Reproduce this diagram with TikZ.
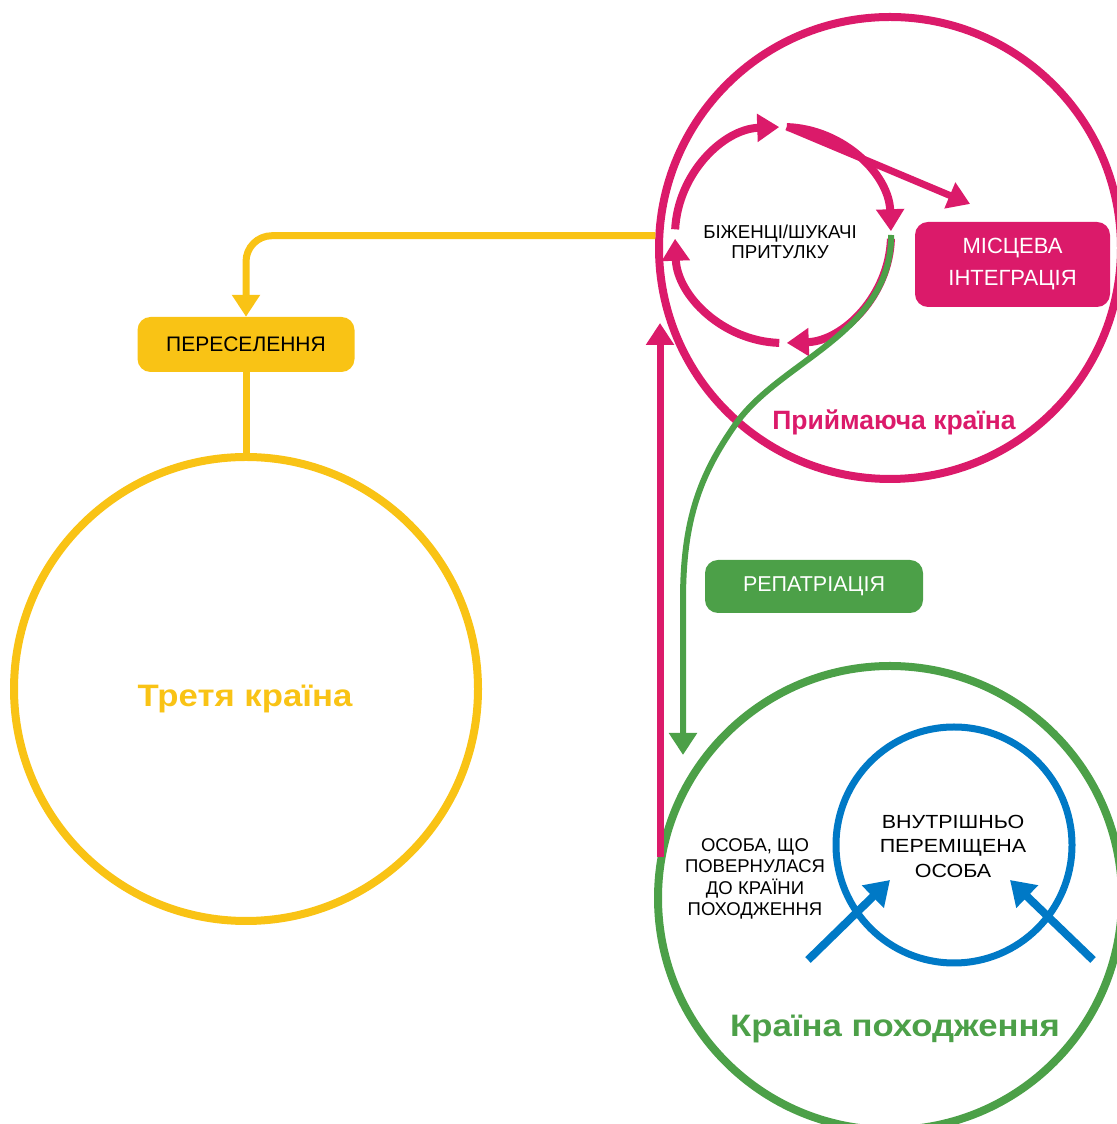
\documentclass[tikz,border=0pt]{standalone}
\usepackage{fontspec}
\setmainfont{Liberation Sans}
\usetikzlibrary{shapes,positioning,arrows.meta,calc}
\usepackage{xcolor}

\definecolor{pinkc}{RGB}{219,26,106}
\definecolor{yellowc}{RGB}{249,195,21}
\definecolor{greenc}{RGB}{76,160,72}
\definecolor{bluec}{RGB}{0,121,198}

\begin{document}
\begin{tikzpicture}[x=1pt,y=1pt,
    ring/.style={circle,draw=#1,line width=8pt,inner sep=0pt},
    tag/.style={rounded corners=13pt,inner sep=0pt,align=center,font=\fontsize{21}{24}\selectfont},
    title/.style={anchor=base,font=\bfseries\fontsize{31}{34}\selectfont\addfontfeature{FakeStretch=1.12}},
    small/.style={align=center,font=\fontsize{18.7}{20}\selectfont}]
          \useasboundingbox (0,0) rectangle (1116,1124);
          \begin{scope}[>={Triangle[length=22pt,width=27pt]}]
            % countries
            \node (host) at (890,876) [ring=pinkc,minimum size=462pt]{};
            \node (origin) at (890,226) [ring=greenc,minimum size=464pt]{};
            \node (third) at (246,435) [ring=yellowc,minimum size=464pt]{};
            \node (idp) at (954,279) [ring=bluec,line width=7pt,minimum size=236pt]{};
            \node (cyc) at (783,889) [circle,inner sep=0pt,minimum size=216pt]{};

            % boxes
            \node (local) at (1012.5,859.5) [tag,fill=pinkc,text=white,minimum width=195pt,minimum height=85pt,font=\fontsize{22}{32}\selectfont]{МІСЦЕВА\\ІНТЕГРАЦІЯ};
            \node (resettle) at (246,779.5) [tag,fill=yellowc,minimum width=217pt,minimum height=55pt]{ПЕРЕСЕЛЕННЯ};
            \node (repat) at (814,537.5) [tag,fill=greenc,text=white,minimum width=218pt,minimum height=53pt,font=\fontsize{21.5}{24}\selectfont]{РЕПАТРІАЦІЯ};

            % texts
            \node (cyctext) at (780,882) [small]{БІЖЕНЦІ/ШУКАЧІ\\ПРИТУЛКУ};
            \node (idptext) at (953,278) [align=center,font=\fontsize{19}{24.5}\selectfont\addfontfeature{FakeStretch=1.13}]{ВНУТРІШНЬО\\ПЕРЕМІЩЕНА\\ОСОБА};
            \node (returned) at (755,245) [align=center,font=\fontsize{18.5}{21.3}\selectfont]{ОСОБА, ЩО\\ПОВЕРНУЛАСЯ\\ДО КРАЇНИ\\ПОХОДЖЕННЯ};
            \node (hostname) at (894,694) [title,text=pinkc,font=\bfseries\fontsize{26.5}{30}\selectfont]{Приймаюча країна};
            \node (thirdname) at (245,417) [title,text=yellowc]{Третя країна};
            \node (originname) at (895,87) [title,text=greenc]{Країна походження};

            \coordinate (greentip) at (683,369);
            \coordinate (rettip) at (660,801);
            \coordinate (inL) at (808,164);
            \coordinate (inR) at (1093,164);

            % cycle of the refugees
            \foreach \s/\e in {177/92,88/2,-2/-88,-92/-178}
              \draw[->,pinkc,line width=8pt] ([shift=(\s:108pt)]cyc.center) arc[start angle=\s,end angle=\e,radius=108pt];
            \draw[->,pinkc,line width=7pt,shorten >=46pt] (cyc.88) -- (local.north);

            \draw[->,yellowc,line width=7pt,rounded corners=26pt] (host.177) -| (resettle.north);
            \draw[yellowc,line width=7pt] (resettle.south) -- (third.north);
            \draw[->,pinkc,line width=7pt] (rettip |- origin.170) -- (rettip);
            \draw[->,greenc,line width=6pt] (cyc.east) .. controls (891,790) and (780,764) .. (735,699)
              .. controls (700,649) and (683,604) .. (683,524) -- (greentip);

            \draw[-{Triangle[length=24pt,width=30pt]},bluec,line width=8pt] (inL) -- ++(82,80);
            \draw[-{Triangle[length=24pt,width=30pt]},bluec,line width=8pt] (inR) -- ++(-83,80);

          \end{scope}
\end{tikzpicture}
\end{document}
